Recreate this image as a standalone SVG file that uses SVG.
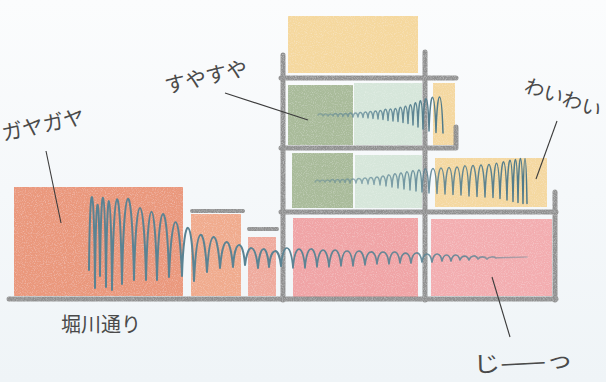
<svg xmlns="http://www.w3.org/2000/svg" width="606" height="382" viewBox="0 0 606 382">
  <defs>
    <linearGradient id="bg" x1="0" y1="0" x2="0" y2="1">
      <stop offset="0" stop-color="#fbfcfd"/>
      <stop offset="1" stop-color="#eff4f7"/>
    </linearGradient>
    <linearGradient id="fadeIn" x1="0" y1="0" x2="1" y2="0">
      <stop offset="0" stop-color="#5a8393" stop-opacity="0.45"/>
      <stop offset="0.5" stop-color="#5a8393" stop-opacity="0.85"/>
      <stop offset="1" stop-color="#4f7a8a" stop-opacity="1"/>
    </linearGradient>
    <linearGradient id="fadeOut" x1="0" y1="0" x2="1" y2="0">
      <stop offset="0" stop-color="#5a8393" stop-opacity="1"/>
      <stop offset="0.75" stop-color="#5a8393" stop-opacity="0.85"/>
      <stop offset="1" stop-color="#5a8393" stop-opacity="0.35"/>
    </linearGradient>
    <!-- light paper grain over the coloured blocks -->
    <filter id="grain" filterUnits="userSpaceOnUse" x="0" y="0" width="606" height="382">
      <feTurbulence type="fractalNoise" baseFrequency="0.9" numOctaves="2" seed="3" result="n"/>
      <feColorMatrix in="n" type="matrix" values="0 0 0 0 1  0 0 0 0 1  0 0 0 0 1  0 0 0 -0.6 0.32" result="speck"/>
      <feComposite in="speck" in2="SourceGraphic" operator="in" result="s2"/>
      <feMerge><feMergeNode in="SourceGraphic"/><feMergeNode in="s2"/></feMerge>
    </filter>
    <!-- graphite texture for the structure lines -->
    <filter id="pencil" filterUnits="userSpaceOnUse" x="0" y="0" width="606" height="382">
      <feTurbulence type="fractalNoise" baseFrequency="1.1" numOctaves="2" seed="7" result="n"/>
      <feDisplacementMap in="SourceGraphic" in2="n" scale="1.2" xChannelSelector="R" yChannelSelector="G" result="d"/>
      <feColorMatrix in="n" type="matrix" values="0 0 0 0 0  0 0 0 0 0  0 0 0 0 0  0 0 0 0.8 0.5" result="m"/>
      <feComposite in="d" in2="m" operator="in"/>
    </filter>
  </defs>
  <style>
    .pencil { fill:none; stroke:#8f8f8f; stroke-width:5; stroke-linecap:round; }
    .lintel { fill:none; stroke:#8f8f8f; stroke-width:4; stroke-linecap:round; }
    .wave { fill:none; stroke-linecap:round; stroke-linejoin:round; }
    .lead { fill:none; stroke:#3c3c3c; stroke-width:1.1; }
    .lbl { font-family:"Noto Sans CJK JP","Noto Sans CJK SC",sans-serif; fill:#4a4a4a; text-anchor:middle; }
  </style>

  <rect width="606" height="382" fill="url(#bg)"/>

  <!-- coloured blocks -->
  <g filter="url(#grain)">
    <g id="shop-large"><rect x="14" y="187" width="169" height="109" fill="#ea987c"/></g>
    <g id="shop-mid"><rect x="191" y="214" width="50" height="82" fill="#f0ab8d"/></g>
    <g id="shop-small"><rect x="248" y="237" width="28" height="59" fill="#efaa9d"/></g>
    <g id="roof-room"><rect x="288" y="16" width="130" height="57" fill="#f5d89e"/></g>
    <g id="room-2a"><rect x="288" y="85" width="65" height="60" fill="#a9bb9a"/></g>
    <g id="room-2b"><rect x="354" y="83" width="68" height="62" fill="#d6e6da"/></g>
    <g id="room-2c"><rect x="433" y="83" width="22" height="62" fill="#f4d8a0"/></g>
    <g id="room-3a"><rect x="292" y="153" width="61" height="55" fill="#a9bb9a"/></g>
    <g id="room-3b"><rect x="355" y="155" width="67" height="53" fill="#d6e6da"/></g>
    <g id="room-3c"><rect x="435" y="158" width="112" height="49" fill="#f4d8a0"/></g>
    <g id="room-1a"><rect x="293" y="218" width="125" height="79" fill="#f0a4a6"/></g>
    <g id="room-1b"><rect x="431" y="219" width="121" height="77" fill="#f3adb0"/></g>
  </g>

  <!-- building frame, lintels and street line -->
  <g id="frame" filter="url(#pencil)">
    <path class="pencil" d="M283 55 V300 M425 52 V300 M555 192 V300"/>
    <path class="pencil" d="M281 78 H456 M281 148 H456 M456 127 V148 M281 212 H556"/>
    <path class="pencil" d="M9 299 H556"/>
    <path class="lintel" d="M192 211 H243 M249 229 H277"/>
  </g>

  <!-- sound waves: rounded crests, pointed troughs -->
  <g id="waves">
    <path class="wave" stroke="#5a8393" stroke-width="2" d="M89 270 C90 170 94 170 95 288 C96 179 99 179 100 276 C101 170 105 170 106 287 C107 172 111 172 112 290 C114 170 120 170 122 284 C124 171 132 171 134 280 C136 184 144 184 146 280 C148 189 155 189 157 280 C159 192.5 167 192.5 169 277 C172 204 179 204 182 276 C184 211 192 211 194 281 C197 221 204 221 207 272 C210 226 217 226 220 268 C223 233.5 230 233.5 233 267 C235 238 243 238 245 265 C248 242 255 242 258 268 C260 243 267 243 269 267 C271 246 279 246 281 266"/>
    <path class="wave" stroke="url(#fadeOut)" stroke-width="1.7" d="M281 266 C283 241.7 291 241.7 293 268 C295 242.7 303 242.7 305 268 C307 242.8 315 242.8 317 267 C319 244.3 327 244.3 329 267 C331 244.5 339 244.5 341 266 C343 246 351 246 353 266 C355 246.2 363 246.2 365 265 C367 247.8 375 247.8 377 264 C379 248 387 248 389 264 C391 248.2 398 248.2 400 263 C402 249.7 409 249.7 411 263 C413 249.8 420 249.8 422 262 C424 251.3 430 251.3 432 262 C434 251.5 440 251.5 442 261 C444 253 449 253 451 261 C453 253.2 458 253.2 460 260 C462 254.7 467 254.7 469 260 C471 254.8 476 254.8 478 259 C480 256.3 485 256.3 487 259 C489 256.5 494 256.5 496 258 C500 257 510 258 527 257"/>
    <path class="wave" stroke="url(#fadeIn)" stroke-width="1.5" d="M318 115 C319 113.3 322 113.3 323 116 C324 113.3 327 113.3 328 116 C329 113.3 332 113.3 333 116 C334 112.5 337 112.5 338 116.5 C339 112.5 342 112.5 343 116.5 C344 112.5 347 112.5 348 116.5 C349 111.7 352 111.7 353 117 C354 111.7 357 111.7 358 117 C359 110.8 362 110.8 363 117.5 C364 110 367 110 368 118 C369 109.2 372 109.2 373 118.5 C374 108.3 377 108.3 378 119 C379 107.5 382 107.5 383 119.5 C384 105.8 387 105.8 388 120.5 C389 105 392 105 393 121 C394 104.2 397 104.2 398 121.5 C399 102.5 402 102.5 403 122.5 C404 100.8 407 100.8 408 123.5 C409 98.3 412 98.3 413 125 C414 95 417 95 418 127 C419 91.7 422 91.7 423 129 C424 88.3 428 88.3 429 131 C430.5 85.8 434.5 85.8 436 132.5 C437.5 85 441.5 85 443 133"/>
    <path class="wave" stroke="url(#fadeIn)" stroke-width="1.5" d="M315 182 C316 179.3 319 179.3 320 182 C321 179.3 324 179.3 325 182 C326 179.3 329 179.3 330 182 C331 178.5 334 178.5 335 182.5 C336 178.5 339 178.5 340 182.5 C341 178.5 344 178.5 345 182.5 C346 177.7 349 177.7 350 183 C351 177.7 355 177.7 356 183 C357 176.8 361 176.8 362 183.5 C363 176 367 176 368 184 C369 175.2 373 175.2 374 184.5 C375 174.3 379 174.3 380 185 C381 172.7 385 172.7 386 186 C387 171 391 171 392 187 C393 169.3 397 169.3 398 188 C399 167.7 403 167.7 404 189 C405 166 409 166 410 190 C411 164.3 415 164.3 416 191 C417 162.7 421 162.7 422 192 C423.5 161 427.5 161 429 193 C430.5 160.2 435.5 160.2 437 193.5 C438.5 159.3 443.5 159.3 445 194 C446.5 158.5 451.5 158.5 453 194.5 C454.5 157.7 459.5 157.7 461 195 C462.5 156 467.5 156 469 196 C470.5 155.2 475.5 155.2 477 196.5 C478.5 154.3 483.5 154.3 485 197 C486.5 153.5 491.5 153.5 493 197.5 C494.5 151.8 498.5 151.8 500 198.5 C501.5 149.3 505.5 149.3 507 200 C508 146.8 512 146.8 513 201.5 C514 145.2 517 145.2 518 202.5 C519 143.5 522 143.5 523 203.5 C524 143.5 526 143.5 527 203.5"/>
  </g>

  <!-- leader lines -->
  <g id="connectors">
    <line class="lead" x1="46" y1="151" x2="61" y2="223"/>
    <line class="lead" x1="225" y1="93" x2="308" y2="120"/>
    <line class="lead" x1="557" y1="121" x2="536" y2="179"/>
    <line class="lead" x1="492" y1="277" x2="510" y2="337"/>
  </g>

  <!-- labels -->
  <g id="label-gaya"><text class="lbl" font-size="21" transform="translate(43 125) rotate(-12)" y="7.5">ガヤガヤ</text></g>
  <g id="label-suya"><text class="lbl" font-size="21" transform="translate(206 77) rotate(-13)" y="7.5">すやすや</text></g>
  <g id="label-wai"><text class="lbl" font-size="20" transform="translate(563 98) rotate(19)" y="7">わいわい</text></g>
  <g id="label-jii"><text class="lbl" font-size="22" transform="translate(523 362) rotate(-3)" y="8" textLength="100" lengthAdjust="spacingAndGlyphs">じ——っ</text></g>
  <g id="label-street"><text class="lbl" font-size="20" x="101" y="332" fill="#333">堀川通り</text></g>
</svg>
